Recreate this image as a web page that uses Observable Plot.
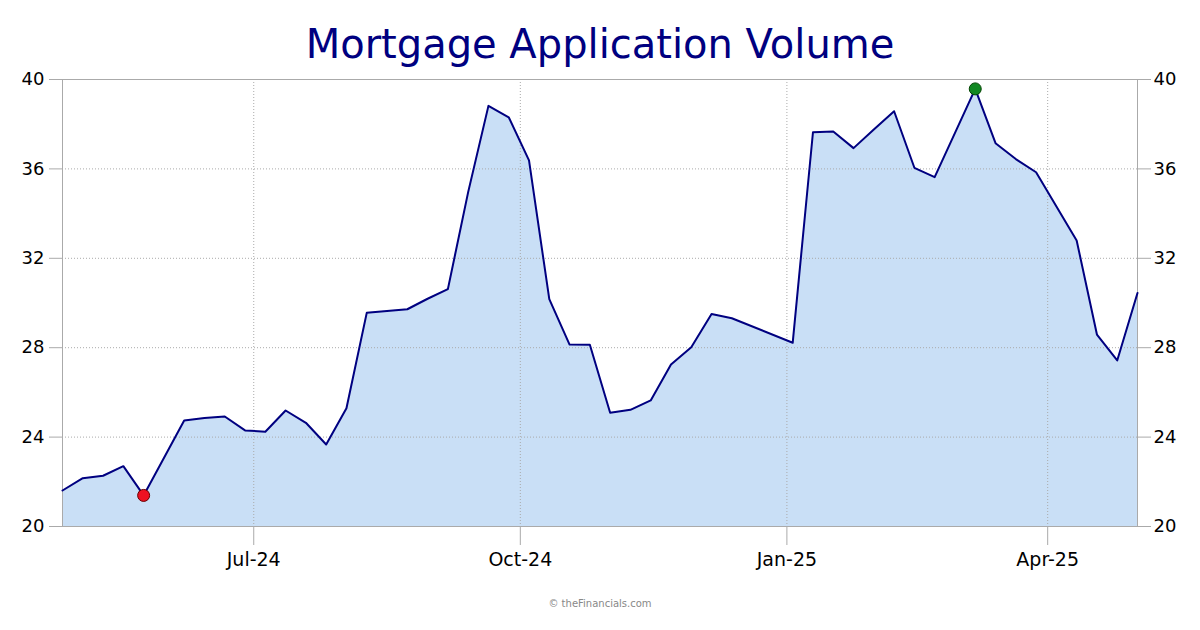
<!DOCTYPE html>
<html>
<head>
<meta charset="utf-8">
<script src="https://cdn.jsdelivr.net/npm/d3@7"></script>
<script src="https://cdn.jsdelivr.net/npm/@observablehq/plot@0.6"></script>
<style>
  html, body { margin: 0; padding: 0; background: #fff; }
  #wrap { position: relative; width: 1200px; height: 630px; overflow: hidden; font-family: "DejaVu Sans", Verdana, sans-serif; }
  #title { position: absolute; left: 0; top: 24px; width: 1200px; text-align: center; font-size: 40px; line-height: 40px; color: #000080; }
  #caption { position: absolute; left: 0; top: 598px; width: 1200px; text-align: center; font-size: 10px; line-height: 12px; color: #888; }
  #chart { position: absolute; left: 0; top: 0; }
</style>
</head>
<body>
<div id="wrap">
  <div id="chart"></div>
  <div id="title">Mortgage Application Volume</div>
  <div id="caption">© theFinancials.com</div>
</div>
<script>
const dates = [
  "2024-04-26","2024-05-03","2024-05-10","2024-05-17","2024-05-24",
  "2024-06-07","2024-06-14","2024-06-21","2024-06-28","2024-07-05",
  "2024-07-12","2024-07-19","2024-07-26","2024-08-02","2024-08-09",
  "2024-08-23","2024-08-30","2024-09-06","2024-09-13","2024-09-20",
  "2024-09-27","2024-10-04","2024-10-11","2024-10-18","2024-10-25",
  "2024-11-01","2024-11-08","2024-11-15","2024-11-22","2024-11-29",
  "2024-12-06","2024-12-13","2025-01-03","2025-01-10","2025-01-17",
  "2025-01-24","2025-01-31","2025-02-07","2025-02-14","2025-02-21",
  "2025-03-07","2025-03-14","2025-03-21","2025-03-28","2025-04-11",
  "2025-04-18","2025-04-25","2025-05-02"
];
const values = [
  21.61, 22.16, 22.27, 22.70, 21.39,
  24.74, 24.85, 24.92, 24.30, 24.24,
  25.19, 24.64, 23.67, 25.29, 29.56,
  29.72, 30.19, 30.62, 34.96, 38.82,
  38.31, 36.38, 30.17, 28.14, 28.13,
  25.09, 25.22, 25.64, 27.25, 28.02,
  29.51, 29.32, 28.22, 37.64, 37.67,
  36.93, 37.76, 38.58, 36.05, 35.63,
  39.58, 37.15, 36.44, 35.85, 32.80,
  28.59, 27.43, 30.45
];
const yTicks = [20, 24, 28, 32, 36, 40];
const xTicks = ["2024-07-01", "2024-10-01", "2025-01-01", "2025-04-01"];
const xTickLabels = ["Jul-24", "Oct-24", "Jan-25", "Apr-25"];

const data = dates.map((d, i) => ({date: new Date(d + "T00:00:00Z"), v: values[i]}));
const minIdx = values.indexOf(Math.min(...values));
const maxIdx = values.indexOf(Math.max(...values));
const xTickDates = xTicks.map(d => new Date(d + "T00:00:00Z"));
const labelOf = new Map(xTickDates.map((d, i) => [+d, xTickLabels[i]]));

const chart = Plot.plot({
  width: 1200,
  height: 630,
  marginLeft: 62,
  marginRight: 63,
  marginTop: 79,
  marginBottom: 104,
  style: {fontFamily: "'DejaVu Sans', Verdana, sans-serif", background: "transparent", color: "#000"},
  x: {type: "utc", domain: [data[0].date, data[data.length - 1].date]},
  y: {domain: [20, 40]},
  marks: [
    Plot.areaY(data, {x: "date", y1: 20, y2: "v", fill: "#c9dff6"}),
    Plot.gridY(yTicks.slice(1, -1), {stroke: "#aaa", strokeOpacity: 1, strokeDasharray: "1,2"}),
    Plot.gridX(xTickDates, {stroke: "#aaa", strokeOpacity: 1, strokeDasharray: "1,2"}),
    Plot.frame({stroke: "#aaa"}),
    Plot.lineY(data, {x: "date", y: "v", stroke: "#000080", strokeWidth: 2}),
    Plot.dot([data[minIdx]], {x: "date", y: "v", r: 6, fill: "#ee1122", stroke: "#660000", strokeWidth: 1}),
    Plot.dot([data[maxIdx]], {x: "date", y: "v", r: 6, fill: "#118822", stroke: "#004400", strokeWidth: 1}),
    Plot.axisY(yTicks, {anchor: "left", tickSize: 13, tickPadding: 5, fontSize: 18, stroke: "#aaa", color: "#000", label: null}),
    Plot.axisY(yTicks, {anchor: "right", tickSize: 13, tickPadding: 3, fontSize: 18, stroke: "#aaa", color: "#000", label: null}),
    Plot.axisX(xTickDates, {anchor: "bottom", tickSize: 19, tickPadding: 7, fontSize: 19, stroke: "#aaa", color: "#000", label: null, tickFormat: d => labelOf.get(+d)})
  ]
});
document.getElementById("chart").appendChild(chart);
</script>
</body>
</html>
